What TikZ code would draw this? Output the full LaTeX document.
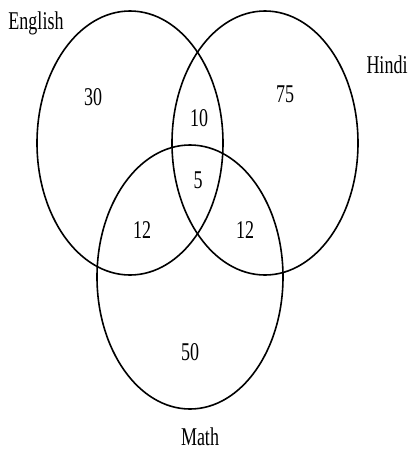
\documentclass[tikz,border=0pt]{standalone}
\usepackage{fontspec}
\setmainfont{Liberation Serif}
\begin{document}
\begin{tikzpicture}[x=1pt,y=-1pt,
  setring/.style={draw=black,line width=1.6pt},
  lbl/.style={font=\fontsize{18}{18}\selectfont,inner sep=0pt,text=black}]
\useasboundingbox (0,0) rectangle (409,453);
\newcommand{\tallt}[1]{\scalebox{1}[1.42]{#1}}
\draw[setring] (130,143) ellipse [x radius=93,y radius=132];
\draw[setring] (265,143) ellipse [x radius=93,y radius=132];
\draw[setring] (190,277) ellipse [x radius=93,y radius=132];
\node[lbl] (english) at (36,23) {\tallt{English}};
\node[lbl] (hindi) at (387,65) {\tallt{Hindi}};
\node[lbl] (math) at (200,437) {\tallt{Math}};
\node[lbl] (eo) at (93,97) {\tallt{30}};
\node[lbl] (ho) at (285,94) {\tallt{75}};
\node[lbl] (eh) at (199,118) {\tallt{10}};
\node[lbl] (all) at (198,180) {\tallt{5}};
\node[lbl] (em) at (142,230) {\tallt{12}};
\node[lbl] (hm) at (245,230) {\tallt{12}};
\node[lbl] (mo) at (190,352) {\tallt{50}};
\end{tikzpicture}
\end{document}
